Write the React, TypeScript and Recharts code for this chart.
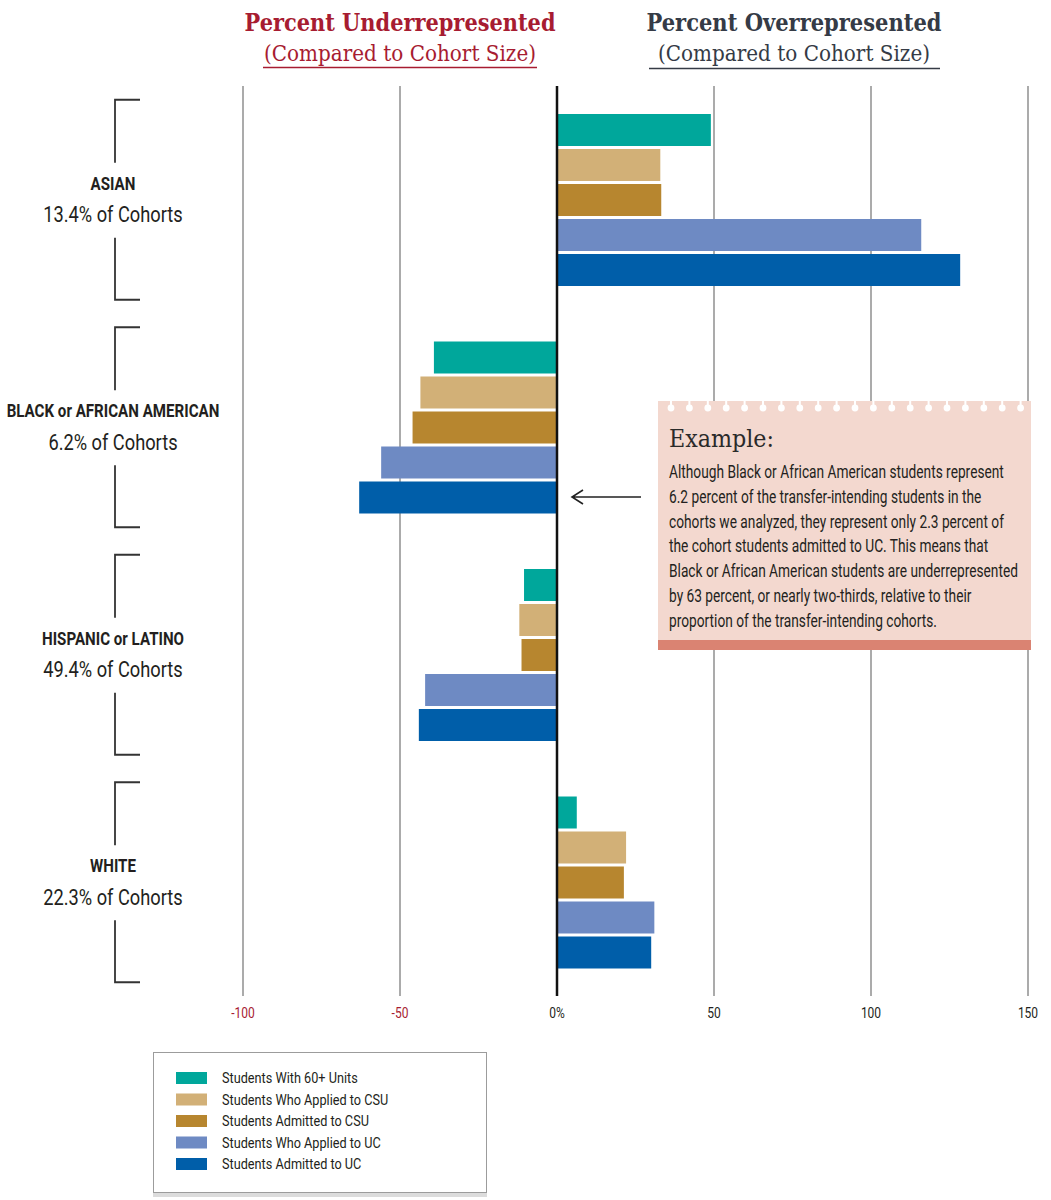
import React from "react";
import {
  BarChart,
  Bar,
  XAxis,
  YAxis,
  CartesianGrid,
  ReferenceLine,
  Legend,
} from "recharts";

// ---------- DATA ----------
const groups = ["ASIAN", "BLACK or AFRICAN AMERICAN", "HISPANIC or LATINO", "WHITE"];
const cohortShares = ["13.4% of Cohorts", "6.2% of Cohorts", "49.4% of Cohorts", "22.3% of Cohorts"];

const units60 = [49, -39.2, -10.5, 6.3];
const appliedCSU = [32.9, -43.5, -12, 22];
const admittedCSU = [33.2, -46, -11.3, 21.3];
const appliedUC = [116, -56, -42, 31];
const admittedUC = [128.4, -63, -44, 30];

const seriesKeys = ["units60", "appliedCSU", "admittedCSU", "appliedUC", "admittedUC"];
const seriesNames = [
  "Students With 60+ Units",
  "Students Who Applied to CSU",
  "Students Admitted to CSU",
  "Students Who Applied to UC",
  "Students Admitted to UC",
];
const seriesColors = ["#00a79b", "#d2b077", "#b7862f", "#6e8ac3", "#005ea9"];

const xTicks = [-100, -50, 0, 50, 100, 150];
const xTickLabels = ["-100", "-50", "0%", "50", "100", "150"];

const exampleTitle = "Example:";
const exampleLines = [
  "Although Black or African American students represent",
  "6.2 percent of the transfer-intending students in the",
  "cohorts we analyzed, they represent only 2.3 percent of",
  "the cohort students admitted to UC. This means that",
  "Black or African American students are underrepresented",
  "by 63 percent, or nearly two-thirds, relative to their",
  "proportion of the transfer-intending cohorts.",
];

const rows = groups.map((g, i) => ({
  group: g,
  units60: units60[i],
  appliedCSU: appliedCSU[i],
  admittedCSU: admittedCSU[i],
  appliedUC: appliedUC[i],
  admittedUC: admittedUC[i],
}));

// ---------- STYLE ----------
const SANS = "Roboto, 'Liberation Sans', sans-serif";
const SERIF = "'DejaVu Serif', serif";
const NARROW = 0.76;
const RED = "#a71c31";
const DARK = "#353b46";
const TEXT = "#231f20";

function NText({ x, y, k = NARROW, anchor = "start", children, ...rest }: any) {
  return (
    <text
      transform={`translate(${x},${y}) scale(${k},1)`}
      textAnchor={anchor}
      dominantBaseline="central"
      fontFamily={SANS}
      fill={TEXT}
      {...rest}
    >
      {children}
    </text>
  );
}

function XTick(props: any) {
  const { x, y, payload } = props;
  const i = xTicks.indexOf(payload.value);
  const label = i >= 0 ? xTickLabels[i] : String(payload.value);
  const color = payload.value < 0 ? RED : TEXT;
  return (
    <NText x={x} y={y + 16} anchor="middle" fontSize={15} fill={color} k={0.8}>
      {label}
    </NText>
  );
}

function YTick(props: any) {
  const { y, payload } = props;
  const idx = groups.indexOf(payload.value);
  const bx = 115;
  const hx = 140;
  return (
    <g>
      <path
        d={`M${hx},${y - 100} H${bx} V${y - 37} M${bx},${y + 38} V${y + 100} H${hx}`}
        fill="none"
        stroke="#333"
        strokeWidth={1.8}
      />
      <NText x={113} y={y - 16} anchor="middle" fontSize={18} fontWeight={700} k={0.84}>
        {payload.value}
      </NText>
      <NText x={113} y={y + 15} anchor="middle" fontSize={22} k={0.83}>
        {cohortShares[idx]}
      </NText>
    </g>
  );
}

function LegendBox(props: any) {
  const pl = props.payload || [];
  const items = seriesNames.map((n, i) => {
    const found = pl.find((p: any) => p.value === n);
    return { value: n, color: found && found.color ? found.color : seriesColors[i] };
  });
  return (
    <div
      style={{
        width: 334,
        height: 141,
        border: "1.5px solid #9c9c9c",
        boxShadow: "0 4px 0 #dcdcdc",
        background: "#fff",
        boxSizing: "border-box",
      }}
    >
      <svg width={331} height={138} style={{ display: "block" }}>
        {items.map((p: any, i: number) => (
          <g key={i}>
            <rect x={22} y={19 + i * 21.5} width={31} height={12} fill={p.color} />
            <NText x={68} y={25 + i * 21.5} fontSize={15.5} k={0.82}>
              {p.value}
            </NText>
          </g>
        ))}
      </svg>
    </div>
  );
}

function Overlay() {
  const dots = [];
  for (let i = 0; i < 20; i++) dots.push(671 + i * 18.4);
  return (
    <svg
      width={1051}
      height={1200}
      style={{ position: "absolute", left: 0, top: 0, pointerEvents: "none" }}
    >
      {/* Titles */}
      <text x={400} y={31} textAnchor="middle" fontFamily={SERIF} fontWeight={700} fontSize={25} fill={RED} textLength={311} lengthAdjust="spacingAndGlyphs">
        Percent Underrepresented
      </text>
      <text x={400} y={61} textAnchor="middle" fontFamily={SERIF} fontSize={22} fill={RED} textLength={272} lengthAdjust="spacingAndGlyphs">
        (Compared to Cohort Size)
      </text>
      <line x1={263} x2={537} y1={67.5} y2={67.5} stroke={RED} strokeWidth={1.5} />
      <text x={794} y={31} textAnchor="middle" fontFamily={SERIF} fontWeight={700} fontSize={25} fill={DARK} textLength={295} lengthAdjust="spacingAndGlyphs">
        Percent Overrepresented
      </text>
      <text x={794} y={61} textAnchor="middle" fontFamily={SERIF} fontSize={22} fill={DARK} textLength={272} lengthAdjust="spacingAndGlyphs">
        (Compared to Cohort Size)
      </text>
      <line x1={649} x2={940} y1={68.5} y2={68.5} stroke={DARK} strokeWidth={1.5} />

      {/* Arrow */}
      <path d="M641,497 H573 M583,490 L572,497 L583,504" fill="none" stroke="#222" strokeWidth={1.6} />

      {/* Example box */}
      <rect x={658} y={401} width={373} height={248} fill="#f3d8cf" />
      <rect x={658} y={640} width={373} height={10} fill="#da8372" />
      {dots.map((dx, i) => (
        <g key={i}>
          <rect x={dx - 1} y={399} width={2} height={8} fill="#fff" />
          <circle cx={dx} cy={408} r={3.4} fill="#fff" />
        </g>
      ))}
      <text x={669} y={447} fontFamily={SERIF} fontSize={24} fill="#2a2a2a" textLength={105} lengthAdjust="spacingAndGlyphs">
        {exampleTitle}
      </text>
      {exampleLines.map((l, i) => (
        <NText key={i} x={669} y={472 + i * 24.7} fontSize={19} k={0.723}>
          {l}
        </NText>
      ))}
    </svg>
  );
}

export default function App() {
  return (
    <div style={{ position: "absolute", left: 0, top: 0, width: 1051, height: 1200, background: "#fff" }}>
      <BarChart
        width={1051}
        height={1200}
        data={rows}
        layout="vertical"
        margin={{ top: 86, right: 23, bottom: 174, left: 8 }}
        barSize={32}
        barGap={3}
      >
        <CartesianGrid horizontal={false} stroke="#ababab" strokeWidth={2} />
        <XAxis
          type="number"
          domain={[-100, 150]}
          ticks={xTicks}
          axisLine={false}
          tickLine={false}
          tickSize={0}
          tickMargin={0}
          height={30}
          tick={<XTick />}
          interval={0}
        />
        <YAxis
          type="category"
          dataKey="group"
          width={235}
          axisLine={false}
          tickLine={false}
          tick={<YTick />}
          interval={0}
        />
        {seriesKeys.map((k, i) => (
          <Bar key={k} dataKey={k} name={seriesNames[i]} fill={seriesColors[i]} isAnimationActive={false} />
        ))}
        <ReferenceLine x={0} stroke="#111" strokeWidth={2.5} />
        <Legend
          layout="vertical"
          align="center"
          verticalAlign="middle"
          content={<LegendBox />}
          wrapperStyle={{ position: "absolute", left: 153, top: 1052, width: 334, height: 141 }}
        />
      </BarChart>
      <Overlay />
    </div>
  );
}
